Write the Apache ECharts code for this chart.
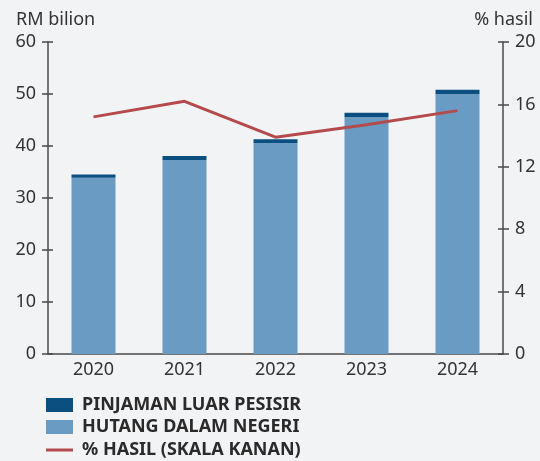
<!DOCTYPE html>
<html>
<head>
<meta charset="utf-8">
<script src="https://cdn.jsdelivr.net/npm/echarts@6/dist/echarts.min.js"></script>
<style>
  html, body { margin: 0; padding: 0; background: #f2f3f5; }
  #chart { width: 540px; height: 461px; }
</style>
</head>
<body>
<div id="chart"></div>
<script>
const years = ['2020', '2021', '2022', '2023', '2024']
const hutangDalamNegeri = [33.9, 37.3, 40.6, 45.6, 50.0]
const pinjamanLuarPesisir = [0.6, 0.8, 0.7, 0.8, 0.8]
const peratusHasil = [15.2, 16.2, 13.9, 14.7, 15.6]

const axisColor = '#4a4a4a'
const textColor = '#333'
const legendText = { fontSize: 18, fontWeight: 'bold', color: '#2a2a2a', padding: [0, 0, 0, 4] }

// ticks in the picture cross the axis line, so a second pair of axes draws the inner half
const tickAxis = (pos, min, max, interval, inside, withLabels) => ({
  type: 'value',
  position: pos,
  min: min, max: max, interval: interval,
  axisLine: { show: withLabels, lineStyle: { color: axisColor, width: 1.5 } },
  axisTick: { show: true, inside: inside, length: inside ? 5 : 6, lineStyle: { color: axisColor, width: 1.5 } },
  axisLabel: { show: withLabels, fontSize: 18, color: textColor, margin: 12 },
  splitLine: { show: false }
})

const leftAxis = tickAxis('left', 0, 60, 10, false, true)
leftAxis.name = 'RM bilion'
leftAxis.nameLocation = 'end'
leftAxis.nameGap = 13
leftAxis.nameTextStyle = { fontSize: 18, color: textColor, align: 'left', padding: [0, 0, 0, -32] }

const rightAxis = tickAxis('right', 0, 20, 4, false, true)
rightAxis.name = '% hasil'
rightAxis.nameLocation = 'end'
rightAxis.nameGap = 13
rightAxis.nameTextStyle = { fontSize: 18, color: textColor, align: 'right', padding: [0, -30, 0, 0] }

const chart = echarts.init(document.getElementById('chart'))
chart.setOption({
  backgroundColor: '#f2f3f5',
  textStyle: { fontFamily: 'Noto Sans' },
  animation: false,
  grid: { left: 48, right: 37, top: 42, bottom: 107, containLabel: false },
  legend: [
    {
      orient: 'vertical',
      left: 46,
      top: 396,
      padding: 0,
      icon: 'rect',
      itemWidth: 27,
      itemHeight: 14,
      itemGap: 4,
      textStyle: legendText,
      data: ['PINJAMAN LUAR PESISIR', 'HUTANG DALAM NEGERI']
    },
    {
      left: 46,
      top: 441,
      padding: 0,
      itemWidth: 27,
      itemHeight: 3,
      icon: 'rect',
      textStyle: legendText,
      data: ['% HASIL (SKALA KANAN)']
    }
  ],
  xAxis: {
    type: 'category',
    data: years,
    axisLine: { lineStyle: { color: axisColor, width: 1.5 } },
    axisTick: { show: false },
    axisLabel: { fontSize: 18, color: textColor, margin: 7 }
  },
  yAxis: [
    leftAxis,
    rightAxis,
    tickAxis('left', 0, 60, 10, true, false),
    tickAxis('right', 0, 20, 4, true, false)
  ],
  series: [
    {
      name: 'HUTANG DALAM NEGERI',
      type: 'bar',
      stack: 'hutang',
      barWidth: 44,
      itemStyle: { color: '#6a9bc3' },
      data: hutangDalamNegeri
    },
    {
      name: 'PINJAMAN LUAR PESISIR',
      type: 'bar',
      stack: 'hutang',
      barWidth: 44,
      itemStyle: { color: '#0b4f80' },
      data: pinjamanLuarPesisir
    },
    {
      name: '% HASIL (SKALA KANAN)',
      type: 'line',
      yAxisIndex: 1,
      symbol: 'none',
      lineStyle: { color: '#b54a4c', width: 3 },
      itemStyle: { color: '#b54a4c' },
      data: peratusHasil
    }
  ]
})
</script>
</body>
</html>
